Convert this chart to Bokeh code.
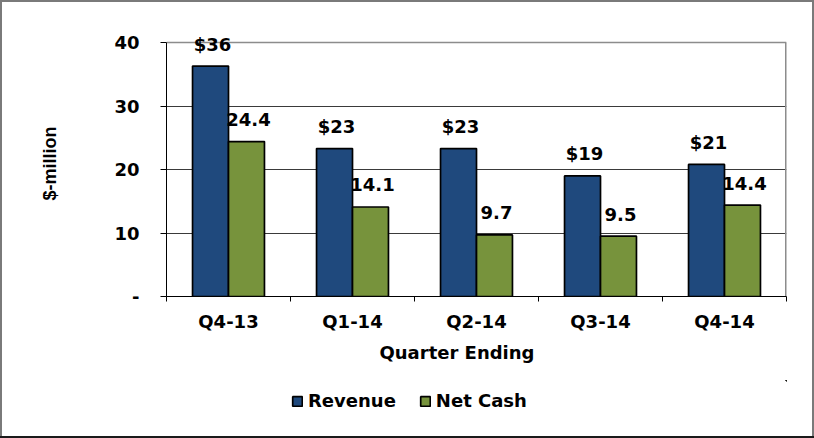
from bokeh.plotting import figure
from bokeh.layouts import column
from bokeh.models import (ColumnDataSource, FixedTicker, LabelSet, Title, Grid,
                          Legend, LegendItem)
from bokeh.core.properties import value
from bokeh.transform import dodge
from bokeh.embed import file_html
from bokeh.resources import INLINE

# ---- data ----
categories = ["Q4-13", "Q1-14", "Q2-14", "Q3-14", "Q4-14"]
revenue = [36.3, 23.3, 23.3, 19.0, 20.8]
net_cash = [24.4, 14.1, 9.7, 9.5, 14.4]
series_names = ["Revenue", "Net Cash"]
y_ticks = [0, 10, 20, 30, 40]
y_tick_labels = ["-", "10", "20", "30", "40"]

x_pos = [i + 0.5 for i in range(len(categories))]
source = ColumnDataSource(dict(
    x=x_pos,
    cat=categories,
    revenue=revenue,
    net_cash=net_cash,
    rev_lbl=["$%.0f" % v for v in revenue],
    net_lbl=["%.1f" % v for v in net_cash],
))

FONT = "DejaVu Sans"
BLUE = "#1F497D"
GREEN = "#77933C"
Y_TOP = y_ticks[-1]
BAR_STYLE = dict(line_color="black", line_width=1.7)

p = figure(
    width=814, height=380,
    min_border_left=166, min_border_right=28,
    min_border_top=30, min_border_bottom=84,
    x_range=(0, len(categories)), y_range=(0, Y_TOP + 1.9),
    output_backend="svg", toolbar_location=None,
    background_fill_color="white", border_fill_alpha=0,
)
p.outline_line_color = None

# bars
p.vbar(x=dodge("x", -0.145, range=p.x_range), top="revenue", width=0.29,
       source=source, fill_color=BLUE, **BAR_STYLE)
p.vbar(x=dodge("x", 0.145, range=p.x_range), top="net_cash", width=0.29,
       source=source, fill_color=GREEN, **BAR_STYLE)

# value labels
common = dict(source=source, text_font=value(FONT), text_font_size="18px",
              text_font_style="bold", text_color="black",
              text_align="center", text_baseline="middle", y_offset=22)
p.add_layout(LabelSet(x="x", y="revenue", text="rev_lbl", x_offset=-16, **common))
p.add_layout(LabelSet(x="x", y="net_cash", text="net_lbl", x_offset=20, **common))

# grid / plot-area border
p.xgrid.grid_line_color = None
p.ygrid.ticker = FixedTicker(ticks=y_ticks[1:-1])
p.ygrid.grid_line_color = "#3a3a3a"
p.ygrid.grid_line_width = 1
p.add_layout(Grid(dimension=1, ticker=FixedTicker(ticks=[Y_TOP]),
                  grid_line_color="#8c8c8c", grid_line_width=1.5))
p.segment(x0=[len(categories)], y0=[0], x1=[len(categories)], y1=[Y_TOP],
          line_color="#8c8c8c", line_width=3)

# y axis
ya = p.yaxis[0]
ya.bounds = (0, Y_TOP)
ya.ticker = FixedTicker(ticks=y_ticks)
ya.major_label_overrides = {t: l for t, l in zip(y_ticks, y_tick_labels)}
ya.major_tick_out = 6
ya.major_tick_in = 0
ya.minor_tick_line_color = None
ya.major_tick_line_color = "black"
ya.axis_line_color = "black"
ya.major_label_standoff = 21
ya.major_label_text_font = FONT
ya.major_label_text_font_size = "18px"
ya.major_label_text_font_style = "bold"
ya.major_label_text_color = "black"
ya.axis_label = "$-million"
ya.axis_label_text_font = "Liberation Sans"
ya.axis_label_text_font_size = "18px"
ya.axis_label_text_font_style = "bold"
ya.axis_label_text_color = "black"
ya.axis_label_standoff = 51

# x axis
xa = p.xaxis[0]
xa.ticker = FixedTicker(ticks=x_pos, minor_ticks=list(range(len(categories) + 1)))
xa.major_label_overrides = {x: c for x, c in zip(x_pos, categories)}
xa.major_tick_out = 0
xa.major_tick_in = 0
xa.minor_tick_out = 5
xa.minor_tick_in = 0
xa.minor_tick_line_color = "black"
xa.axis_line_color = "black"
xa.major_label_standoff = 9
xa.major_label_text_font = FONT
xa.major_label_text_font_size = "18px"
xa.major_label_text_font_style = "bold"
xa.major_label_text_color = "black"

# x axis title
p.add_layout(Title(text="Quarter Ending", align="left", offset=213, standoff=10,
                   text_font=FONT, text_font_size="18px", text_font_style="bold",
                   text_color="black"), "below")

# ---- legend strip below the chart (its frame is aligned with the chart's) ----
# ranges far away from the data, so only the legend swatches are visible here
lf = figure(width=814, height=58, min_border=0, x_axis_type=None, y_axis_type=None,
            x_range=(-1000, -999), y_range=(-1000, -999),
            output_backend="svg", toolbar_location=None,
            background_fill_alpha=0, border_fill_alpha=0)
lf.outline_line_color = None
lf.grid.grid_line_color = None
lr1 = lf.vbar(x="x", top="revenue", width=0.29, source=source, fill_color=BLUE, **BAR_STYLE)
lr2 = lf.vbar(x="x", top="net_cash", width=0.29, source=source, fill_color=GREEN, **BAR_STYLE)
legend = Legend(items=[LegendItem(label=series_names[0], renderers=[lr1]),
                       LegendItem(label=series_names[1], renderers=[lr2])],
                orientation="horizontal", location=(125, 27), padding=0, margin=0,
                spacing=23, label_standoff=5, glyph_width=12, glyph_height=12,
                border_line_color=None, background_fill_alpha=0,
                label_text_font=FONT, label_text_font_size="18px",
                label_text_font_style="bold", label_text_color="black")
lf.add_layout(legend)

layout = column(p, lf, spacing=0,
                styles={"box-shadow": "inset 0 -2px 0 0 #1a1a1a, inset 0 0 0 2px #7a7a7a"})

open("out.html", "w").write(file_html(layout, INLINE))
